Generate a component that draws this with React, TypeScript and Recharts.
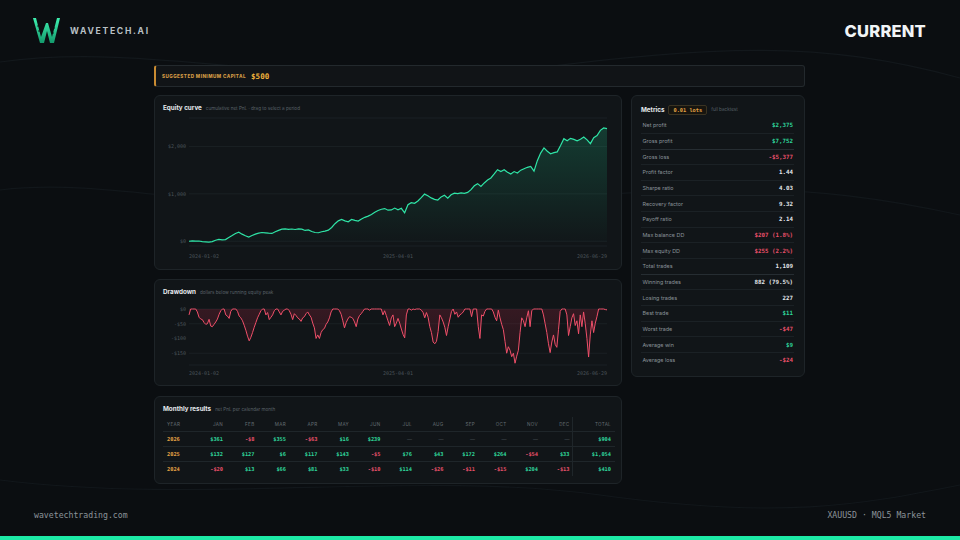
import React from 'react';
import { AreaChart, Area, XAxis, YAxis, CartesianGrid } from 'recharts';

// cumulative net PnL, sampled evenly from 2024-01-02 to 2026-06-29
const equityValues = [
  0, 8, 3, 5, -6, -12, -20, -8, 22, 40,
  30, 35, 80, 120, 165, 190, 150, 115, 90, 120,
  150, 170, 185, 178, 170, 165, 200, 230, 255, 262,
  250, 258, 248, 262, 255, 228, 240, 205, 185, 180,
  200, 215, 235, 290, 370, 430, 460, 430, 410, 460,
  440, 425, 470, 505, 530, 565, 610, 650, 675, 690,
  655, 660, 700, 665, 695, 600, 770, 815, 800, 850,
  920, 995, 960, 915, 885, 870, 935, 970, 910, 980,
  1015, 1005, 1020, 1010, 1030, 1090, 1170, 1215, 1155, 1230,
  1290, 1335, 1420, 1510, 1470, 1510, 1455, 1420, 1470, 1440,
  1500, 1530, 1560, 1580, 1480, 1700, 1860, 1970, 1900, 1845,
  1870, 1885, 2020, 2165, 2120, 2170, 2150, 2120, 2150, 2200,
  2140, 2060, 2185, 2230, 2340, 2390, 2375,
];

// dollars below running equity peak, same period
const drawdownValues = [
  -20, 0, 0, 0, 0, -10, -28, -34, -36, -46,
  -52, -50, -35, -58, -60, -52, -44, -34, -18, -6,
  0, 0, -20, -24, -32, -8, 0, 0, 0, -8,
  -24, -30, -40, -55, -72, -92, -108, -96, -80, -62,
  -46, -30, -18, -6, 0, 0, -20, -12, -36, -28,
  -20, -6, 0, 0, -10, -20, -8, -4, 0, 0,
  -6, -18, -36, -16, -22, -30, -34, -42, -30, -26,
  -16, -10, -20, -28, -48, -64, -100, -88, -100, -80,
  -70, -66, -52, -44, -30, -10, 0, 0, 0, 0,
  -6, -18, -40, -64, -46, -34, -26, -28, -32, -44,
  -60, -34, -22, -16, -8, 0, 0, 0, -4, 0,
  0, 0, 0, 0, 0, 0, -20, -6, -22, -40,
  -56, -30, -20, -60, -48, -32, -48, -68, -86, -98,
  -20, 0, 0, -4, 0, -2, 0, 0, 0, -4,
  -12, -30, -12, -28, -60, -80, -112, -118, -110, -76,
  -20, -30, -44, -62, -90, -60, -34, -8, 0, -18,
  -10, -28, -20, -16, -10, 0, 0, 0, 0, -26,
  0, 0, 0, -60, -100, -20, -24, -8, 0, 0,
  0, 0, -10, -28, -40, -4, -30, -52, -70, -110,
  -150, -128, -140, -162, -150, -184, -160, -140, -80, -30,
  -40, -60, -30, -6, -60, -6, 0, 0, 0, 0,
  0, 0, -20, -50, -80, -118, -148, -112, -88, -120,
  -130, -70, -8, 0, 0, 0, -20, -90, -60, -30,
  -16, -56, -40, -84, -20, -60, -10, -50, -100, -163,
  -88, -40, -80, -48, -26, 0, 0, 0, 0, -2,
  -3,
];

const dateTickLabels = ['2024-01-02', '2025-04-01', '2026-06-29'];
const equityTicks = [0, 1000, 2000];
const drawdownTicks = [0, -50, -100, -150];

const months = ['JAN', 'FEB', 'MAR', 'APR', 'MAY', 'JUN', 'JUL', 'AUG', 'SEP', 'OCT', 'NOV', 'DEC'];
const years = ['2026', '2025', '2024'];
const pnl2026 = [361, -8, 355, -63, 16, 239, null, null, null, null, null, null];
const pnl2025 = [132, 127, 6, 117, 143, -5, 76, 43, 172, 264, -54, 33];
const pnl2024 = [-20, 13, 66, 81, 33, -10, 114, -26, -11, -15, 204, -13];
const yearTotals = [904, 1054, 410];

const metricLabels = [
  'Net profit', 'Gross profit', 'Gross loss', 'Profit factor', 'Sharpe ratio',
  'Recovery factor', 'Payoff ratio', 'Max balance DD', 'Max equity DD', 'Total trades',
  'Winning trades', 'Losing trades', 'Best trade', 'Worst trade', 'Average win', 'Average loss',
];
const metricValues = [
  '$2,375', '$7,752', '-$5,377', '1.44', '4.03',
  '9.32', '2.14', '$207 (1.8%)', '$255 (2.2%)', '1,109',
  '882 (79.5%)', '227', '$11', '-$47', '$9', '-$24',
];
const metricTones = [
  'pos', 'pos', 'neg', 'neu', 'neu',
  'neu', 'neu', 'neg', 'neg', 'neu',
  'neu', 'neu', 'pos', 'neg', 'pos', 'neg',
];

const BG = '#0b0e11';
const PANEL = '#111518';
const BORDER = '#1e2428';
const GREEN = '#2fd69b';
const RED = '#e8506a';
const GOLD = '#e6a445';
const MONO = '"DejaVu Sans Mono", monospace';
const SANS = 'Inter, "Noto Sans", sans-serif';

const toneColor = (t: string) => (t === 'pos' ? GREEN : t === 'neg' ? RED : '#e4e8eb');
const money = (v: number) =>
  v < 0 ? `-$${Math.abs(v).toLocaleString('en-US')}` : `$${v.toLocaleString('en-US')}`;

const equityData = equityValues.map((v, i) => ({ i, v }));
const drawdownData = drawdownValues.map((v, i) => ({ i, v }));

const makeDateTick = (last: number) => (props: any) => {
  const { x, y, payload } = props;
  const ticks = [0, Math.round(last / 2), last];
  const k = ticks.indexOf(payload.value);
  const anchor = k === 0 ? 'start' : k === 2 ? 'end' : 'middle';
  return (
    <text x={x} y={y} dy="0.71em" textAnchor={anchor} fill="#4c545a" fontSize={5} fontFamily={MONO}>
      {dateTickLabels[k]}
    </text>
  );
};

const panel = (left: number, top: number, width: number, height: number): React.CSSProperties => ({
  position: 'absolute', left, top, width, height, background: PANEL,
  border: `1px solid ${BORDER}`, borderRadius: 6, boxSizing: 'border-box',
});

const PanelTitle = ({ title, sub }: { title: string; sub: string }) => (
  <div style={{ position: 'absolute', left: 8, top: 7.5, height: 9, display: 'flex', alignItems: 'center', whiteSpace: 'nowrap' }}>
    <span style={{ fontSize: 6.3, fontWeight: 700, color: '#e6eaed' }}>{title}</span>
    <span style={{ fontSize: 4.6, color: '#5a6268', marginLeft: 4 }}>{sub}</span>
  </div>
);

const EquityChart = () => {
  const last = equityValues.length - 1;
  return (
    <AreaChart width={466} height={155} data={equityData} margin={{ top: 8, right: 14, bottom: 0, left: 0 }}>
      <defs>
        <linearGradient id="eqFill" x1="0" y1="0" x2="0" y2="1">
          <stop offset="0%" stopColor="#1fc98f" stopOpacity={0.36} />
          <stop offset="100%" stopColor="#1fc98f" stopOpacity={0.02} />
        </linearGradient>
      </defs>
      <CartesianGrid vertical={false} stroke="#1a2024" />
      <XAxis dataKey="i" type="number" domain={[0, last]} ticks={[0, Math.round(last / 2), last]}
        tick={makeDateTick(last)} tickLine={false} axisLine={false} tickSize={0} tickMargin={8} height={19} />
      <YAxis type="number" domain={[-100, 2600]} ticks={equityTicks} tickFormatter={money}
        tick={{ fill: '#4c545a', fontSize: 5, fontFamily: MONO }} tickLine={false} axisLine={false}
        tickSize={0} tickMargin={3} width={34} />
      <Area type="linear" dataKey="v" stroke="#2fe4a6" strokeWidth={1.2} fill="url(#eqFill)"
        dot={false} activeDot={false} isAnimationActive={false} />
    </AreaChart>
  );
};

const DrawdownChart = () => {
  const last = drawdownValues.length - 1;
  return (
    <AreaChart width={466} height={80} data={drawdownData} margin={{ top: 9, right: 14, bottom: 0, left: 0 }}>
      <defs>
        <linearGradient id="ddFill" x1="0" y1="0" x2="0" y2="1">
          <stop offset="0%" stopColor="#8a2238" stopOpacity={0.5} />
          <stop offset="100%" stopColor="#8a2238" stopOpacity={0.2} />
        </linearGradient>
      </defs>
      <CartesianGrid vertical={false} stroke="#1a2024" />
      <XAxis dataKey="i" type="number" domain={[0, last]} ticks={[0, Math.round(last / 2), last]}
        tick={makeDateTick(last)} tickLine={false} axisLine={false} tickSize={0} tickMargin={6} height={15} />
      <YAxis type="number" domain={[-190, 0]} ticks={drawdownTicks} tickFormatter={money}
        tick={{ fill: '#4c545a', fontSize: 5, fontFamily: MONO }} tickLine={false} axisLine={false}
        tickSize={0} tickMargin={3} width={34} />
      <Area type="linear" dataKey="v" stroke="#ef4f69" strokeWidth={1} fill="url(#ddFill)"
        dot={false} activeDot={false} isAnimationActive={false} />
    </AreaChart>
  );
};

const MonthlyTable = () => {
  const rows = [pnl2026, pnl2025, pnl2024];
  const colRight = months.map((_, j) => 68 + 31.5 * j);
  const cell = (right: number, cy: number, text: string, style: React.CSSProperties) => (
    <div style={{ position: 'absolute', left: right - 34, width: 34, top: cy - 4, height: 8, lineHeight: '8px', textAlign: 'right', whiteSpace: 'nowrap', ...style }}>
      {text}
    </div>
  );
  const head: React.CSSProperties = { fontSize: 4.6, color: '#646c72', letterSpacing: 0.3 };
  return (
    <div style={panel(154, 396, 468, 88)}>
      <PanelTitle title="Monthly results" sub="net PnL per calendar month" />
      <div style={{ position: 'absolute', left: 12, top: 23.7, height: 8, lineHeight: '8px', ...head }}>YEAR</div>
      {months.map((m, j) => <React.Fragment key={m}>{cell(colRight[j], 27.7, m, head)}</React.Fragment>)}
      {cell(456, 27.7, 'TOTAL', head)}
      {[34, 49, 64].map((y) => (
        <div key={y} style={{ position: 'absolute', left: 8, width: 452, top: y, height: 1, background: '#1f262a' }} />
      ))}
      <div style={{ position: 'absolute', left: 417, top: 20, width: 1, height: 59, background: '#1f262a' }} />
      {rows.map((row, r) => {
        const cy = 41.7 + 15 * r;
        return (
          <React.Fragment key={years[r]}>
            <div style={{ position: 'absolute', left: 12, top: cy - 4, height: 8, lineHeight: '8px', fontSize: 5.3, fontWeight: 700, fontFamily: MONO, color: GOLD }}>{years[r]}</div>
            {row.map((v, j) => (
              <React.Fragment key={j}>
                {v === null
                  ? cell(colRight[j], cy, '—', { fontSize: 5, color: '#4d555b' })
                  : cell(colRight[j], cy, money(v), { fontSize: 5.3, fontWeight: 700, fontFamily: MONO, color: v < 0 ? RED : GREEN })}
              </React.Fragment>
            ))}
            {cell(456, cy, money(yearTotals[r]), { fontSize: 5.3, fontWeight: 700, fontFamily: MONO, color: GREEN })}
          </React.Fragment>
        );
      })}
    </div>
  );
};

const MetricsPanel = () => (
  <div style={{ ...panel(631, 95, 174, 282) }}>
    <div style={{ position: 'absolute', left: 9, top: 9, height: 9, display: 'flex', alignItems: 'center', whiteSpace: 'nowrap' }}>
      <span style={{ fontSize: 6.3, fontWeight: 700, color: '#e6eaed' }}>Metrics</span>
      <span style={{ marginLeft: 4, padding: '0 4px', height: 8, lineHeight: '8px', border: '1px solid #3a3322', background: '#17150f', borderRadius: 2, fontFamily: MONO, fontSize: 5.3, fontWeight: 700, color: GOLD }}>0.01 lots</span>
      <span style={{ marginLeft: 4, fontSize: 4.6, color: '#566066' }}>full backtest</span>
    </div>
    {metricLabels.map((label, i) => (
      <div key={label} style={{
        position: 'absolute', left: 9, right: 10, top: 21.2 + i * 15.65, height: 15.65,
        borderTop: i === 0 ? 'none' : `1px solid ${i === 2 || i === 10 ? '#262d32' : '#1b2125'}`,
        boxSizing: 'border-box', display: 'flex', alignItems: 'center', justifyContent: 'space-between',
      }}>
        <span style={{ fontSize: 5.4, color: '#8a9398', marginLeft: 1.5 }}>{label}</span>
        <span style={{ fontSize: 5.8, fontWeight: 700, fontFamily: MONO, color: toneColor(metricTones[i]), marginRight: 1 }}>{metricValues[i]}</span>
      </div>
    ))}
  </div>
);

export default function App() {
  return (
    <div style={{ position: 'absolute', left: 0, top: 0, width: 960, height: 540, background: BG, overflow: 'hidden', fontFamily: SANS }}>
      <svg width={960} height={540} style={{ position: 'absolute', left: 0, top: 0 }}>
        <path d="M0 62 C 160 40, 320 95, 520 70 S 820 40, 960 78" fill="none" stroke="#13181c" strokeWidth={1.2} />
        <path d="M0 190 C 120 175, 260 225, 480 205 S 800 180, 960 215" fill="none" stroke="#12171b" strokeWidth={1.2} />
        <path d="M0 480 C 200 505, 420 470, 600 495 S 860 505, 960 485" fill="none" stroke="#12171b" strokeWidth={1.2} />
        <defs>
          <linearGradient id="logoG" x1="0" y1="0" x2="0" y2="1">
            <stop offset="0%" stopColor="#3ff0b0" />
            <stop offset="100%" stopColor="#139a6c" />
          </linearGradient>
        </defs>
        <path d="M33 18 L36 18 L41 37 L46 23 L48 23 L52 37 L57 18 L60 18 L54 43 L50 43 L47 31 L44 43 L40 43 Z" fill="url(#logoG)" />
        <path d="M37 26 L39 26 M38 31 L40 31 M53 28 L55 28 M52 33 L54 33" stroke={BG} strokeWidth={0.8} />
      </svg>

      <div style={{ position: 'absolute', left: 70, top: 26, height: 11, lineHeight: '11px', fontSize: 8.6, fontWeight: 700, letterSpacing: 1.7, color: '#b9c0c5' }}>WAVETECH.AI</div>
      <div style={{ position: 'absolute', right: 34, top: 20, height: 22, lineHeight: '22px', fontSize: 16.5, fontWeight: 800, color: '#f1f4f6', letterSpacing: 0.2 }}>CURRENT</div>

      <div style={{ position: 'absolute', left: 154, top: 65, width: 651, height: 22, boxSizing: 'border-box', background: '#111417', border: '1px solid #23292d', borderLeft: `2px solid #c98b32`, borderRadius: 3, display: 'flex', alignItems: 'center' }}>
        <span style={{ marginLeft: 6, fontSize: 4.6, fontWeight: 800, letterSpacing: 0.45, color: '#d39a45' }}>SUGGESTED MINIMUM CAPITAL</span>
        <span style={{ marginLeft: 5, fontSize: 7.6, fontWeight: 800, color: '#f0b23c', fontFamily: MONO }}>$500</span>
      </div>

      <div style={panel(154, 95, 468, 175)}>
        <PanelTitle title="Equity curve" sub="cumulative net PnL · drag to select a period" />
        <div style={{ position: 'absolute', left: 0, top: 14 }}>
          <EquityChart />
        </div>
      </div>

      <div style={panel(154, 279, 468, 107)}>
        <PanelTitle title="Drawdown" sub="dollars below running equity peak" />
        <div style={{ position: 'absolute', left: 0, top: 20 }}>
          <DrawdownChart />
        </div>
      </div>

      <MonthlyTable />
      <MetricsPanel />

      <div style={{ position: 'absolute', left: 34, top: 510, height: 10, lineHeight: '10px', fontSize: 8.2, fontFamily: MONO, color: '#8c9499' }}>wavetechtrading.com</div>
      <div style={{ position: 'absolute', right: 34, top: 510, height: 10, lineHeight: '10px', fontSize: 8.2, fontFamily: MONO, color: '#8c9499' }}>XAUUSD · MQL5 Market</div>
      <div style={{ position: 'absolute', left: 0, top: 536, width: 960, height: 4, background: '#1de9a6' }} />
    </div>
  );
}
